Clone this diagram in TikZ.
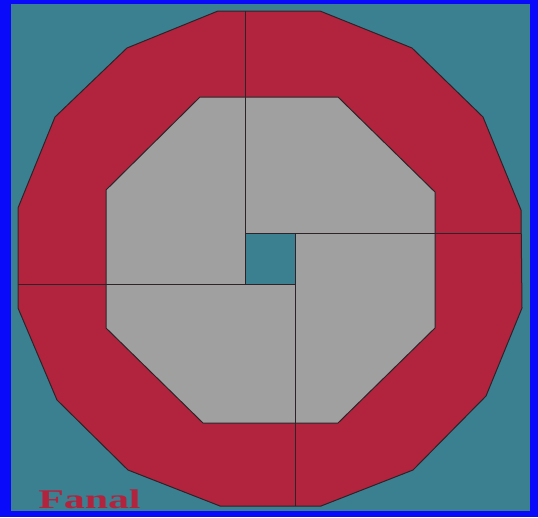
\documentclass[tikz,border=0pt]{standalone}
\usepackage{fontspec}
\setmainfont{Liberation Serif}
\definecolor{bblue}{RGB}{10,10,250}
\definecolor{teal2}{RGB}{58,128,145}
\definecolor{red2}{RGB}{178,36,62}
\definecolor{gray2}{RGB}{160,160,160}
\definecolor{edge}{RGB}{45,35,40}
\begin{document}
\begin{tikzpicture}[x=1pt,y=-1pt,
  outl/.style={draw=edge,line width=1pt,line join=round},
  cut/.style={draw=edge,line width=1pt}]
\useasboundingbox (0,0) rectangle (538,517);
\fill[bblue] (0,0) rectangle (538,517);
\fill[teal2] (11,4) rectangle (530,511);
% outer 16-gon
\filldraw[fill=red2,outl] (218,11) -- (320,11) -- (412,48) -- (483,117) -- (521,210) -- (522,308) -- (486,396) -- (413,470) -- (321,506) -- (220,506) -- (128,470) -- (57,400) -- (18,308) -- (18,208) -- (55,117) -- (127,48) -- cycle;
% octagon
\filldraw[fill=gray2,outl] (200,97) -- (338,97) -- (435,192) -- (435,328) -- (338,423) -- (203,423) -- (106,328) -- (106,190) -- cycle;
% centre square
\fill[teal2] (245,233) rectangle (295,284);
% pinwheel cuts
\draw[cut] (245,11) -- (245,284);
\draw[cut] (245,233) -- (521,233);
\draw[cut] (295,233) -- (295,506);
\draw[cut] (18,284) -- (295,284);
\node[text=red2,font=\bfseries\fontsize{27}{27}\selectfont,xscale=1.55,anchor=base west,inner sep=0pt] (lbl) at (38,508) {Fanal};
\end{tikzpicture}
\end{document}
